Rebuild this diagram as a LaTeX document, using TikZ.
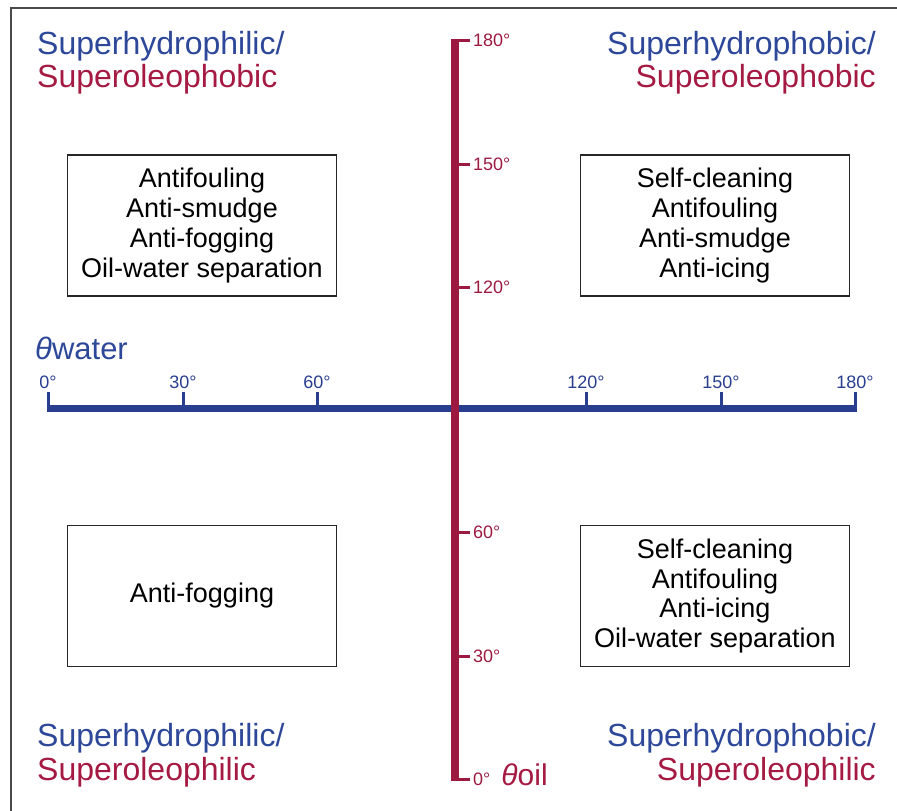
\documentclass[tikz,border=0pt]{standalone}
\usepackage{fontspec}
\setmainfont{Liberation Sans}
\usetikzlibrary{positioning,calc}
\definecolor{WaterBlue}{HTML}{2D4799}
\definecolor{AxisBlue}{HTML}{283E8E}
\definecolor{OilRed}{HTML}{A51A42}
\definecolor{AxisRed}{HTML}{9C1940}
\definecolor{FrameGray}{HTML}{4A4A4A}

\begin{document}
\begin{tikzpicture}[x=1pt,y=-1pt]
    \tikzset{usebox/.style={draw=black!85,line width=1.8pt,minimum width=269pt,
      minimum height=141pt,align=center,inner sep=0pt,font=\fontsize{27}{29.7}\selectfont},
      corner/.style={inner sep=0pt,font=\fontsize{32}{33}\selectfont},
      wtick/.style={AxisBlue,line width=3pt},
      otick/.style={AxisRed,line width=3pt},
      wlab/.style={text=AxisBlue,inner sep=1.5pt,font=\fontsize{18}{18}\selectfont,above},
      olab/.style={text=AxisRed,inner sep=1.5pt,font=\fontsize{18}{18}\selectfont,right}}
    \useasboundingbox (0,0) rectangle (897,811);
    \draw[FrameGray,line width=1.5pt] (11,811) -- (11,8) -- (897,8);
    % applications in each quadrant
    \node[usebox] (tl) at (202,225.5) {Antifouling\\Anti-smudge\\Anti-fogging\\Oil-water separation};
    \node[usebox] (tr) at (715,225.5) {Self-cleaning\\Antifouling\\Anti-smudge\\Anti-icing};
    \node[usebox] (bl) at (202,596) {Anti-fogging};
    \node[usebox] (br) at (715,596) {Self-cleaning\\Antifouling\\Anti-icing\\Oil-water separation};
    % wetting regimes
    \node[corner,anchor=west,text=WaterBlue] (tlw) at (37,46) {Superhydrophilic/};
    \node[corner,anchor=west,text=OilRed] (tlo) at ($(tlw.west)+(0,33)$) {Superoleophobic};
    \node[corner,anchor=east,text=WaterBlue] (trw) at (876,46) {Superhydrophobic/};
    \node[corner,anchor=east,text=OilRed] (tro) at ($(trw.east)+(0,33)$) {Superoleophobic};
    \node[corner,anchor=west,text=WaterBlue] (blw) at (37,738) {Superhydrophilic/};
    \node[corner,anchor=west,text=OilRed] (blo) at ($(blw.west)+(0,34)$) {Superoleophilic};
    \node[corner,anchor=east,text=WaterBlue] (brw) at (876,738) {Superhydrophobic/};
    \node[corner,anchor=east,text=OilRed] (bro) at ($(brw.east)+(0,34)$) {Superoleophilic};
    % water contact angle axis
    \coordinate (w0) at (48,408);
    \coordinate (w180) at (855,408);
    \draw[AxisBlue,line width=7pt] ($(w0)+(-1.5,0)$) -- ($(w180)+(1.5,0)$);
    \draw[wtick] (w0) -- ++(0,-16) node[wlab] {0°};
    \draw[wtick] (183,408) -- ++(0,-16) node[wlab] {30°};
    \draw[wtick] (317,408) -- ++(0,-16) node[wlab] {60°};
    \draw[wtick] (586,408) -- ++(0,-16) node[wlab] {120°};
    \draw[wtick] (721,408) -- ++(0,-16) node[wlab] {150°};
    \draw[wtick] (w180) -- ++(0,-16) node[wlab] {180°};
    \node[anchor=west,inner sep=0pt,text=WaterBlue,font=\fontsize{31}{31}\selectfont] (wname) at (35,348) {\itshape θ\upshape water};
    % oil contact angle axis
    \coordinate (o0) at (455,781);
    \coordinate (o180) at (455,39);
    \draw[AxisRed,line width=8.5pt] (o0) -- (o180);
    \draw[otick] ($(o180)+(0,1.5)$) -- ++(15,0) node[olab] {180°};
    \draw[otick] (455,164) -- ++(15,0) node[olab] {150°};
    \draw[otick] (455,287) -- ++(15,0) node[olab] {120°};
    \draw[otick] (455,532) -- ++(15,0) node[olab] {60°};
    \draw[otick] (455,656) -- ++(15,0) node[olab] {30°};
    \draw[otick] ($(o0)+(0,-1.5)$) -- ++(15,0) node[olab] (olab0) {0°};
    \node[anchor=west,inner sep=0pt,text=OilRed,font=\fontsize{30}{30}\selectfont] (oname) at ($(olab0.east)+(8,-5)$) {\itshape θ\upshape oil};
\end{tikzpicture}
\end{document}
